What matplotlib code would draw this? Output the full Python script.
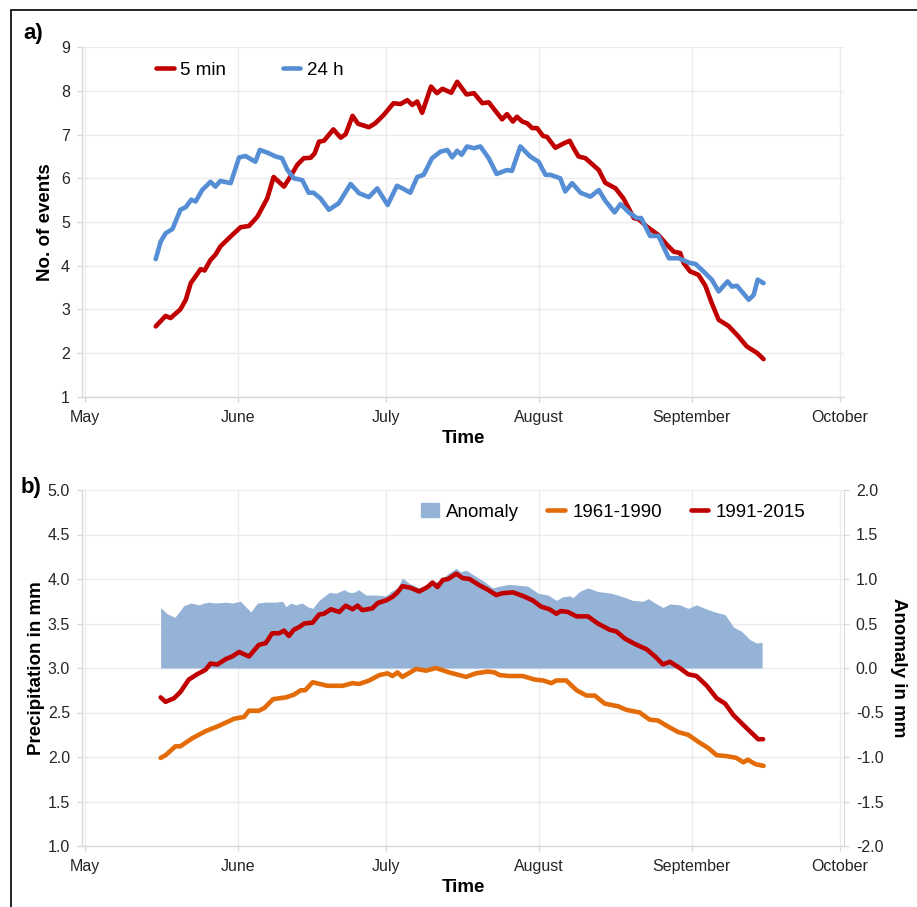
import matplotlib
matplotlib.use("Agg")
import matplotlib.pyplot as plt
from matplotlib.patches import Rectangle, Patch

plt.rcParams["font.family"] = ["Liberation Sans", "DejaVu Sans"]

W, H = 917, 907

# x positions are days after 1 May
months = ["May", "June", "July", "August", "September", "October"]
month_day = [0, 31, 61, 92, 123, 153]

# ---- panel a: number of events ----
a5_day = [14.4, 16.4, 17.4, 19.4, 20.5, 21.5, 23.5, 24.3, 25.5, 26.5,
          27.5, 29.6, 31.6, 33.3, 35.0, 37.0, 38.3, 40.4, 41.7, 43.1,
          44.4, 45.8, 46.6, 47.5, 48.5, 50.4, 51.9, 52.9, 54.3, 55.4,
          57.6, 58.9, 60.6, 62.6, 64.0, 65.4, 66.4, 67.4, 68.4, 70.2,
          71.4, 72.5, 74.3, 75.5, 77.4, 78.9, 80.6, 81.9, 84.6, 85.6,
          86.8, 87.6, 88.7, 89.7, 90.7, 91.7, 92.9, 93.7, 95.4, 97.1,
          98.3, 99.1, 100.1, 101.5, 104.2, 105.5, 107.6, 109.2, 111.3, 112.3,
          114.0, 116.3, 118.0, 119.4, 120.7, 121.4, 122.7, 124.4, 125.8, 127.1,
          128.5, 130.5, 132.5, 134.2, 136.3, 137.6]
a5_val = [2.61, 2.85, 2.80, 3.00, 3.22, 3.60, 3.92, 3.89, 4.13, 4.25,
          4.44, 4.67, 4.88, 4.91, 5.12, 5.54, 6.03, 5.81, 6.04, 6.31,
          6.46, 6.47, 6.57, 6.84, 6.86, 7.12, 6.93, 7.01, 7.43, 7.25,
          7.17, 7.26, 7.45, 7.72, 7.70, 7.79, 7.68, 7.76, 7.50, 8.10,
          7.95, 8.05, 7.96, 8.21, 7.92, 7.95, 7.72, 7.74, 7.35, 7.47,
          7.30, 7.41, 7.30, 7.26, 7.15, 7.15, 6.97, 6.95, 6.70, 6.80,
          6.86, 6.69, 6.50, 6.46, 6.19, 5.90, 5.77, 5.54, 5.09, 5.06,
          4.89, 4.70, 4.48, 4.32, 4.29, 4.06, 3.87, 3.79, 3.54, 3.14,
          2.76, 2.62, 2.38, 2.15, 2.00, 1.86]

a24_day = [14.4, 15.4, 16.4, 17.8, 19.4, 20.5, 21.6, 22.5, 23.8, 25.5,
           26.5, 27.5, 29.6, 31.3, 32.6, 34.6, 35.5, 37.0, 38.7, 40.0,
           41.1, 42.4, 44.1, 45.4, 46.4, 47.8, 49.5, 51.5, 53.9, 55.6,
           57.6, 59.3, 61.4, 63.3, 64.4, 66.0, 67.4, 68.7, 70.4, 72.1,
           73.5, 74.5, 75.5, 76.4, 77.5, 78.9, 80.2, 81.9, 83.5, 85.6,
           86.6, 88.3, 90.3, 92.0, 93.4, 94.4, 96.4, 97.4, 98.8, 100.5,
           102.5, 104.2, 105.5, 107.4, 108.6, 110.3, 111.9, 112.8, 114.6, 116.3,
           118.4, 120.4, 122.7, 123.8, 125.4, 127.1, 128.5, 130.3, 131.2, 132.2,
           134.6, 135.6, 136.4, 137.6]
a24_val = [4.15, 4.55, 4.74, 4.84, 5.28, 5.34, 5.51, 5.47, 5.73, 5.92,
           5.81, 5.94, 5.89, 6.48, 6.51, 6.38, 6.65, 6.59, 6.50, 6.46,
           6.19, 6.00, 5.96, 5.67, 5.67, 5.54, 5.28, 5.43, 5.87, 5.66,
           5.57, 5.77, 5.39, 5.83, 5.77, 5.67, 6.03, 6.08, 6.46, 6.61,
           6.65, 6.48, 6.63, 6.54, 6.73, 6.69, 6.73, 6.46, 6.10, 6.19,
           6.17, 6.73, 6.50, 6.38, 6.08, 6.08, 6.00, 5.70, 5.89, 5.67,
           5.58, 5.73, 5.49, 5.22, 5.41, 5.22, 5.09, 5.09, 4.68, 4.68,
           4.17, 4.17, 4.06, 4.04, 3.87, 3.68, 3.41, 3.64, 3.52, 3.54,
           3.22, 3.33, 3.68, 3.60]

# ---- panel b: precipitation ----
b61_day = [15.4, 16.4, 18.4, 19.4, 21.8, 24.5, 27.2, 30.3, 32.3, 33.3,
           35.3, 36.4, 38.2, 40.8, 42.4, 43.8, 44.7, 46.2, 49.2, 52.3,
           54.3, 55.6, 57.7, 59.7, 61.4, 62.4, 63.4, 64.4, 67.2, 69.2,
           71.2, 73.9, 77.3, 79.3, 81.7, 83.1, 84.1, 86.1, 88.8, 91.2,
           92.9, 94.6, 95.6, 97.6, 99.7, 101.7, 103.4, 105.4, 108.1, 109.8,
           112.5, 114.5, 116.2, 118.3, 120.3, 122.3, 124.4, 126.4, 128.1, 130.1,
           132.1, 133.5, 134.4, 135.9, 137.6]
b61_val = [1.99, 2.02, 2.12, 2.12, 2.21, 2.29, 2.35, 2.43, 2.45, 2.52,
           2.52, 2.55, 2.65, 2.67, 2.70, 2.75, 2.75, 2.84, 2.80, 2.80,
           2.83, 2.82, 2.86, 2.92, 2.94, 2.91, 2.95, 2.90, 2.99, 2.97,
           3.00, 2.95, 2.90, 2.94, 2.96, 2.95, 2.92, 2.91, 2.91, 2.87,
           2.86, 2.83, 2.86, 2.86, 2.75, 2.69, 2.69, 2.60, 2.57, 2.53,
           2.50, 2.42, 2.41, 2.34, 2.28, 2.25, 2.17, 2.10, 2.02, 2.01,
           1.99, 1.94, 1.97, 1.92, 1.90]

b91_day = [15.4, 16.4, 18.1, 19.4, 21.1, 22.8, 24.5, 25.5, 26.9, 28.6,
           29.9, 31.3, 33.3, 35.3, 36.7, 38.0, 39.4, 40.4, 41.4, 42.4,
           43.5, 44.5, 46.2, 47.5, 48.5, 49.9, 51.6, 52.9, 54.3, 55.3,
           56.3, 58.3, 59.4, 61.1, 62.4, 63.4, 64.4, 66.1, 67.8, 69.5,
           70.5, 71.5, 72.6, 73.7, 75.3, 76.6, 78.0, 80.0, 81.7, 83.4,
           84.7, 86.8, 88.8, 90.8, 92.5, 94.2, 95.6, 96.5, 97.9, 99.7,
           102.0, 104.0, 106.4, 107.8, 109.5, 111.5, 113.9, 115.6, 117.2, 118.6,
           120.6, 122.3, 124.0, 126.1, 128.1, 129.8, 131.5, 133.5, 135.2, 136.5,
           137.5]
b91_val = [2.67, 2.62, 2.66, 2.73, 2.87, 2.93, 2.98, 3.05, 3.04, 3.10,
           3.13, 3.18, 3.13, 3.26, 3.28, 3.39, 3.39, 3.42, 3.36, 3.43,
           3.46, 3.50, 3.51, 3.60, 3.61, 3.66, 3.63, 3.70, 3.66, 3.70,
           3.65, 3.67, 3.73, 3.76, 3.80, 3.85, 3.92, 3.90, 3.86, 3.91,
           3.96, 3.91, 3.99, 4.00, 4.06, 4.01, 4.00, 3.93, 3.88, 3.82,
           3.84, 3.85, 3.81, 3.76, 3.69, 3.66, 3.61, 3.64, 3.63, 3.58,
           3.58, 3.50, 3.43, 3.41, 3.33, 3.27, 3.21, 3.13, 3.04, 3.07,
           3.00, 2.93, 2.91, 2.80, 2.66, 2.60, 2.47, 2.36, 2.27, 2.20,
           2.20]

anom_day = [15.4, 16.7, 18.3, 20.1, 21.5, 23.2, 24.2, 25.2, 26.5, 28.6,
            29.9, 31.6, 32.6, 33.7, 35.0, 36.7, 38.7, 40.1, 40.8, 41.8,
            42.8, 44.1, 45.1, 46.2, 47.5, 49.6, 50.9, 52.6, 53.6, 54.6,
            55.5, 57.0, 59.0, 61.1, 62.1, 63.4, 64.4, 65.8, 67.8, 70.2,
            71.9, 73.9, 75.3, 76.2, 77.3, 79.0, 81.0, 82.7, 84.1, 86.1,
            87.8, 89.8, 91.9, 93.9, 95.6, 96.9, 98.3, 99.0, 100.3, 102.0,
            104.0, 106.8, 109.1, 111.1, 113.2, 114.2, 115.6, 117.2, 118.6, 120.6,
            122.3, 124.0, 125.7, 127.7, 129.8, 131.5, 133.2, 134.8, 136.2, 137.3]
anom_val = [0.68, 0.61, 0.57, 0.70, 0.73, 0.71, 0.73, 0.74, 0.73, 0.74,
            0.73, 0.75, 0.69, 0.63, 0.73, 0.74, 0.74, 0.75, 0.69, 0.73,
            0.71, 0.73, 0.69, 0.67, 0.76, 0.85, 0.84, 0.88, 0.85, 0.85,
            0.88, 0.82, 0.82, 0.81, 0.86, 0.90, 1.01, 0.95, 0.90, 0.95,
            0.98, 1.07, 1.12, 1.08, 1.10, 1.04, 0.97, 0.90, 0.92, 0.94,
            0.93, 0.92, 0.84, 0.82, 0.76, 0.80, 0.81, 0.79, 0.86, 0.90,
            0.86, 0.84, 0.80, 0.76, 0.75, 0.78, 0.73, 0.68, 0.72, 0.71,
            0.67, 0.71, 0.67, 0.63, 0.60, 0.46, 0.41, 0.32, 0.28, 0.29]

RED = "#C00000"
BLUE = "#558ED5"
ORANGE = "#E36C09"
FILL = "#95B3D7"
GRID = "#ebebeb"
SPINE = "#d9d9d9"
TXT = "#262626"
TICK_FS = 11.5
LAB_FS = 13.5
LEG_FS = 13.5


def px(x, y):
    return x / W, 1 - y / H


def style(ax, ylim, yticks, fmt):
    ax.set_xlim(-0.6, 153.9)
    ax.set_ylim(*ylim)
    ax.set_xticks(month_day)
    ax.set_xticklabels(months)
    ax.set_yticks(yticks)
    ax.set_yticklabels([fmt.format(v) for v in yticks])
    for s in ("top", "right"):
        ax.spines[s].set_visible(False)
    for s in ("left", "bottom"):
        ax.spines[s].set_color(SPINE)
        ax.spines[s].set_linewidth(1.0)
    ax.tick_params(axis="both", colors=SPINE, labelcolor=TXT,
                   labelsize=TICK_FS, length=3.5, width=1.0)
    ax.tick_params(axis="x", pad=6)
    ax.tick_params(axis="y", pad=5)


line_kw = dict(lw=3.3, solid_capstyle="round", solid_joinstyle="round")

fig = plt.figure(figsize=(W / 100, H / 100), dpi=100)

# ---------------- panel a ----------------
ax_a = fig.add_axes([81.7 / W, 1 - 396.7 / H, 762.3 / W, 349.4 / H])
style(ax_a, (1, 9), list(range(1, 10)), "{:d}")
ax_a.grid(True, color=GRID, lw=1.0, zorder=0)
ax_a.set_axisbelow(True)
ax_a.plot(a5_day, a5_val, color=RED, label="5 min", **line_kw)
ax_a.plot(a24_day, a24_val, color=BLUE, label="24 h", **line_kw)
ax_a.set_xlabel("Time", fontsize=LAB_FS, fontweight="bold", color="black")
ax_a.xaxis.set_label_coords(*px(463, 439), transform=fig.transFigure)
ax_a.set_ylabel("No. of events", fontsize=LAB_FS, fontweight="bold", color="black")
ax_a.yaxis.set_label_coords(*px(45, 222), transform=fig.transFigure)
ax_a.xaxis.label.set_va("center")
ax_a.yaxis.label.set_va("center")
ax_a.legend(loc="center left", bbox_to_anchor=px(156, 70), bbox_transform=fig.transFigure,
            ncol=2, frameon=False, fontsize=LEG_FS, handlelength=0.95,
            handletextpad=0.35, columnspacing=3.0, borderpad=0, borderaxespad=0)

# ---------------- panel b ----------------
ax_b = fig.add_axes([81.7 / W, 1 - 846 / H, 762.3 / W, 356 / H])
ax_b2 = ax_b.twinx()
ax_b2.set_zorder(1)
ax_b.set_zorder(2)
ax_b.patch.set_visible(False)

style(ax_b, (1, 5), [1.0 + 0.5 * i for i in range(9)], "{:.1f}")
ax_b2.set_ylim(-2, 2)
ax_b2.set_yticks([-2.0 + 0.5 * i for i in range(9)])
ax_b2.set_yticklabels(["{:.1f}".format(-2.0 + 0.5 * i) for i in range(9)])
for s in ("top", "left", "bottom"):
    ax_b2.spines[s].set_visible(False)
ax_b2.spines["right"].set_color(SPINE)
ax_b2.tick_params(axis="y", colors=SPINE, labelcolor=TXT, labelsize=TICK_FS,
                  length=3.5, width=1.0, pad=5)
ax_b2.xaxis.set_visible(True)
ax_b2.tick_params(axis="x", bottom=False, top=False, labelbottom=False, labeltop=False)
ax_b2.grid(True, color=GRID, lw=1.0, zorder=0)
ax_b2.set_axisbelow(True)

anom = ax_b2.fill_between(anom_day, 0, anom_val, color=FILL, lw=0, zorder=1, label="Anomaly")
l61, = ax_b.plot(b61_day, b61_val, color=ORANGE, label="1961-1990", **line_kw)
l91, = ax_b.plot(b91_day, b91_val, color=RED, label="1991-2015", **line_kw)

ax_b.set_xlabel("Time", fontsize=LAB_FS, fontweight="bold", color="black")
ax_b.xaxis.set_label_coords(*px(463, 887), transform=fig.transFigure)
ax_b.set_ylabel("Precipitation in mm", fontsize=LAB_FS, fontweight="bold", color="black")
ax_b.yaxis.set_label_coords(*px(37, 668), transform=fig.transFigure)
ax_b2.set_ylabel("Anomaly in mm", fontsize=LAB_FS, fontweight="bold", color="black",
                 rotation=-90)
ax_b2.yaxis.set_label_coords(*px(898, 668), transform=fig.transFigure)
for lab in (ax_b.xaxis.label, ax_b.yaxis.label, ax_b2.yaxis.label):
    lab.set_va("center")

ax_b.legend([Patch(color=FILL), l61, l91], ["Anomaly", "1961-1990", "1991-2015"],
            loc="center left", bbox_to_anchor=px(421, 512), bbox_transform=fig.transFigure,
            ncol=3, frameon=False, fontsize=LEG_FS, handlelength=0.95,
            handletextpad=0.4, columnspacing=1.5, borderpad=0, borderaxespad=0)

# panel letters and frame
fig.text(*px(23, 33), "a)", fontsize=16, fontweight="bold", va="center", ha="left")
fig.text(*px(21, 487), "b)", fontsize=16, fontweight="bold", va="center", ha="left")
fig.add_artist(Rectangle(px(11, 1000), 2, (1000 - 10) / H, transform=fig.transFigure,
                         fill=False, edgecolor="black", lw=1.2, clip_on=False))

fig.savefig("out.png", dpi=100, facecolor="white")
